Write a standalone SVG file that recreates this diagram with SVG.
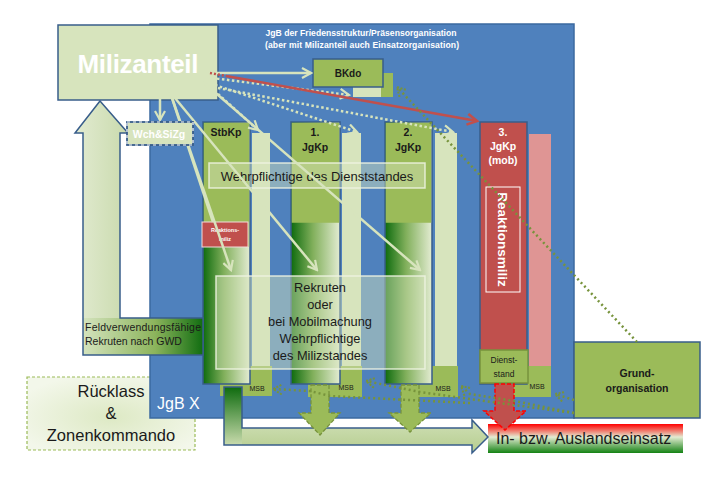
<svg xmlns="http://www.w3.org/2000/svg" width="727" height="484" viewBox="0 0 727 484">
<style>
.t{font-family:"Liberation Sans","DejaVu Sans",sans-serif}
.b{font-weight:bold}
.w{fill:#ffffff}
.k{fill:#1a1a1a}
.pale{fill:#d7e4bd}
.grn{fill:#9bbb59}
.bd{stroke:#385d8a;stroke-width:1.5}
.ov{fill:#d7e4bd;fill-opacity:0.45;stroke:#eef3e3;stroke-opacity:0.85;stroke-width:1.5}
.lp{fill:none;stroke:#d7e4bd;stroke-width:2.5}
.dp{fill:none;stroke:#d7e4bd;stroke-width:2.5;stroke-dasharray:2.5 2.5}
.dg{fill:none;stroke:#77933c;stroke-width:2.5;stroke-dasharray:2 3}
.lr{fill:none;stroke:#c0504d;stroke-width:2.5}
.msb{font-size:7px}
</style>
<defs>
<linearGradient id="colG" x1="0" y1="0" x2="1" y2="0">
<stop offset="0" stop-color="#0e6b0e"/><stop offset="0.45" stop-color="#82b05c"/><stop offset="1" stop-color="#e3ecd2"/>
</linearGradient>
<linearGradient id="upG" x1="0" y1="0" x2="1" y2="0">
<stop offset="0" stop-color="#e2ebd1"/><stop offset="1" stop-color="#a6c279"/>
</linearGradient>
<linearGradient id="feldG" x1="0" y1="0" x2="1" y2="0">
<stop offset="0" stop-color="#d4e3bd"/><stop offset="0.6" stop-color="#8cb45c"/><stop offset="1" stop-color="#116d11"/>
</linearGradient>
<linearGradient id="shaftG" x1="0" y1="0" x2="0" y2="1">
<stop offset="0" stop-color="#0e6b0e"/><stop offset="1" stop-color="#c9dbad"/>
</linearGradient>
<linearGradient id="bandG" x1="0" y1="0" x2="0" y2="1">
<stop offset="0" stop-color="#eaf1de"/><stop offset="1" stop-color="#b5cd8e"/>
</linearGradient>
<linearGradient id="einG" x1="0" y1="0" x2="0" y2="1">
<stop offset="0" stop-color="#ff0000"/><stop offset="0.45" stop-color="#e3ebd2"/><stop offset="1" stop-color="#138213"/>
</linearGradient>
<radialGradient id="rueG" cx="0.5" cy="0.55" r="0.6">
<stop offset="0" stop-color="#dde9c4"/><stop offset="1" stop-color="#f3f7ea"/>
</radialGradient>
<marker id="ap" viewBox="0 0 12 12" refX="10" refY="6" markerWidth="12" markerHeight="12" markerUnits="userSpaceOnUse" orient="auto"><path d="M1,1 L10,6 L1,11" fill="none" stroke="#d7e4bd" stroke-width="2.2"/></marker>
<marker id="ar" viewBox="0 0 12 12" refX="10" refY="6" markerWidth="13" markerHeight="13" markerUnits="userSpaceOnUse" orient="auto"><path d="M1,1 L10,6 L1,11" fill="none" stroke="#c0504d" stroke-width="2.4"/></marker>
<marker id="ag" viewBox="0 0 12 12" refX="10" refY="6" markerWidth="12" markerHeight="12" markerUnits="userSpaceOnUse" orient="auto"><path d="M1,1 L10,6 L1,11" fill="none" stroke="#77933c" stroke-width="2" stroke-dasharray="2 1.5"/></marker>
</defs>

<g id="ruecklass">
<rect x="27" y="377" width="168" height="73" fill="url(#rueG)" stroke="#9bbb59" stroke-width="1.2" stroke-dasharray="3 2"/>
<text class="t k" x="111" y="397" font-size="16.5" text-anchor="middle">Rücklass</text>
<text class="t k" x="111" y="419" font-size="16.5" text-anchor="middle">&amp;</text>
<text class="t k" x="111" y="441" font-size="16.5" text-anchor="middle">Zonenkommando</text>
</g>

<g id="jgb">
<rect x="150" y="24" width="424" height="394" fill="#4f81bd" stroke="#3b6aa0" stroke-width="1.5"/>
<text class="t b w" x="361" y="36" font-size="8.6" text-anchor="middle" textLength="191">JgB der Friedensstruktur/Präsensorganisation</text>
<text class="t b w" x="362" y="48" font-size="8.6" text-anchor="middle" textLength="194">(aber mit Milizanteil auch Einsatzorganisation)</text>
<text class="t w" x="157" y="409" font-size="16">JgB X</text>
</g>

<g id="bkdo">
<rect x="353" y="73" width="40" height="24" class="grn"/>
<rect x="353" y="86" width="28" height="11" class="pale"/>
<rect x="313" y="59" width="70" height="28" class="grn bd"/>
<text class="t b k" x="348" y="77" font-size="10" text-anchor="middle">BKdo</text>
</g>

<g id="stbkp">
<rect x="220" y="366" width="52" height="30" class="grn"/>
<text class="t k msb" x="257" y="391" text-anchor="middle">MSB</text>
<rect x="252" y="133" width="18" height="233" class="pale"/>
<rect x="203" y="122" width="47" height="262" fill="url(#colG)" stroke="#385d8a" stroke-width="1.5"/>
<rect x="203.75" y="122.75" width="45.5" height="124" class="grn"/>
<text class="t b k" x="226" y="136" font-size="10.5" text-anchor="middle">StbKp</text>
<rect x="202" y="222" width="46" height="25" fill="#c0504d" stroke="#f2dcdb" stroke-width="1"/>
<text class="t b w" x="225" y="232" font-size="5.5" text-anchor="middle">Reaktions-</text>
<text class="t b w" x="225" y="241" font-size="5.5" text-anchor="middle">miliz</text>
</g>

<g id="jgkp1">
<rect x="308" y="366" width="54" height="31" class="grn"/>
<text class="t k msb" x="346" y="390" text-anchor="middle">MSB</text>
<rect x="342" y="133" width="19" height="233" class="pale"/>
<rect x="291" y="122" width="49" height="262" fill="url(#colG)" stroke="#385d8a" stroke-width="1.5"/>
<rect x="291.75" y="122.75" width="47.5" height="100" class="grn"/>
<text class="t b k" x="315" y="136" font-size="10.5" text-anchor="middle">1.</text>
<text class="t b k" x="315" y="151" font-size="10.5" text-anchor="middle">JgKp</text>
</g>

<g id="jgkp2">
<rect x="402" y="366" width="56" height="31" class="grn"/>
<text class="t k msb" x="443" y="391" text-anchor="middle">MSB</text>
<rect x="435" y="133" width="22" height="233" class="pale"/>
<rect x="385" y="122" width="47" height="262" fill="url(#colG)" stroke="#385d8a" stroke-width="1.5"/>
<rect x="385.75" y="122.75" width="45.5" height="100" class="grn"/>
<text class="t b k" x="408" y="136" font-size="10.5" text-anchor="middle">2.</text>
<text class="t b k" x="408" y="151" font-size="10.5" text-anchor="middle">JgKp</text>
</g>

<g id="jgkp3">
<rect x="497" y="366" width="54" height="31" class="grn"/>
<text class="t k msb" x="537" y="389" text-anchor="middle">MSB</text>
<rect x="529" y="134" width="22" height="232" fill="#df9594"/>
<rect x="480" y="122" width="47" height="262" fill="#c0504d" stroke="#385d8a" stroke-width="1.5"/>
<text class="t b w" x="503" y="136" font-size="10.5" text-anchor="middle">3.</text>
<text class="t b w" x="503" y="150" font-size="10.5" text-anchor="middle">JgKp</text>
<text class="t b w" x="503" y="164" font-size="10.5" text-anchor="middle">(mob)</text>
<rect x="486" y="187" width="34" height="105" fill="none" stroke="#ffffff" stroke-width="1"/>
<text class="t b w" transform="translate(498,239.5) rotate(90)" font-size="13.5" text-anchor="middle">Reaktionsmiliz</text>
</g>

<g id="dienststand">
<rect x="480" y="350" width="48" height="33" class="grn" stroke="#77933c" stroke-width="1.5"/>
<text class="t k" x="504" y="363" font-size="8.5" text-anchor="middle">Dienst-</text>
<text class="t k" x="504" y="377" font-size="8.5" text-anchor="middle">stand</text>
</g>

<g id="wehrpflichtige">
<rect x="209" y="163" width="216" height="25" class="ov"/>
<text class="t k" x="317" y="181" font-size="13" text-anchor="middle">Wehrpflichtige des Dienststandes</text>
</g>

<g id="rekruten">
<rect x="216" y="276" width="209" height="93" class="ov"/>
<text class="t k" x="320" y="292" font-size="12.8" text-anchor="middle">Rekruten</text>
<text class="t k" x="320" y="309" font-size="12.8" text-anchor="middle">oder</text>
<text class="t k" x="320" y="326" font-size="12.8" text-anchor="middle">bei Mobilmachung</text>
<text class="t k" x="320" y="343" font-size="12.8" text-anchor="middle">Wehrpflichtige</text>
<text class="t k" x="320" y="360" font-size="12.8" text-anchor="middle">des Milizstandes</text>
</g>

<g id="feldverwendung">
<path d="M100,101 L128,133 L120,133 L120,318 L203,318 L203,355 L83,355 L83,133 L75,133 Z" fill="url(#upG)"/>
<rect x="83" y="318" width="120" height="37" fill="url(#feldG)"/>
<path d="M100,101 L128,133 L120,133 L120,318 L203,318 L203,355 L83,355 L83,133 L75,133 Z" fill="none" stroke="#385d8a" stroke-width="1.5"/>
<text class="t k" x="85" y="331" font-size="10.5" textLength="116">Feldverwendungsfähige</text>
<text class="t k" x="85" y="345" font-size="10.5">Rekruten nach GWD</text>
</g>

<g id="milizanteil">
<rect x="58" y="25" width="160" height="75" class="pale" stroke="#385d8a" stroke-width="1.5"/>
<text class="t b w" x="138" y="73" font-size="26" text-anchor="middle" textLength="121">Milizanteil</text>
</g>

<g id="grundorganisation">
<rect x="574" y="342" width="126" height="76" class="grn bd"/>
<text class="t b k" x="637" y="377" font-size="10.5" text-anchor="middle">Grund-</text>
<text class="t b k" x="637" y="392" font-size="10.5" text-anchor="middle">organisation</text>
</g>

<g id="einsatz">
<rect x="488" y="424" width="195" height="29" fill="url(#einG)"/>
<text class="t k" x="496" y="444" font-size="16">In- bzw. Auslandseinsatz</text>
</g>

<g id="blockarrows">
<path d="M224,387 L242,387 L242,428 L472,428 L472,420 L488,437 L472,453 L472,445 L224,445 Z" fill="url(#bandG)"/>
<rect x="224" y="387" width="18" height="58" fill="url(#shaftG)"/>
<path d="M224,387 L242,387 L242,428 L472,428 L472,420 L488,437 L472,453 L472,445 L224,445 Z" fill="none" stroke="#385d8a" stroke-width="1.5"/>
<path d="M311,385 L329,385 L329,413 L340,413 L320,435 L299,413 L311,413 Z" fill="#9bbb59" stroke="#77933c" stroke-width="1.3" stroke-dasharray="4 2"/>
<path d="M401,385 L419,385 L419,413 L431,413 L410,432 L389,413 L401,413 Z" fill="#9bbb59" stroke="#77933c" stroke-width="1.3" stroke-dasharray="4 2"/>
<path d="M495,384 L514,384 L514,411 L526,411 L505,430 L484,411 L495,411 Z" fill="#c0504d" stroke="#ff0000" stroke-width="1.5" stroke-dasharray="4 2"/>
</g>

<g id="connectors">
<line x1="212" y1="73" x2="311" y2="73" class="lp" marker-end="url(#ap)"/>
<line x1="160" y1="86" x2="160" y2="120" class="lp" marker-end="url(#ap)"/>
<line x1="167" y1="83" x2="231" y2="270" class="lp" marker-end="url(#ap)"/>
<line x1="167" y1="83" x2="213" y2="222" class="lp"/>
<line x1="170" y1="92" x2="317" y2="270" class="lp" marker-end="url(#ap)"/>
<line x1="203" y1="82" x2="420" y2="270" class="lp" marker-end="url(#ap)"/>
<line x1="212" y1="78" x2="349" y2="95" class="dp" marker-end="url(#ap)"/>
<line x1="215" y1="85" x2="357" y2="132" class="dp" marker-end="url(#ap)"/>
<line x1="218" y1="88" x2="453" y2="132" class="dp" marker-end="url(#ap)"/>
<line x1="218" y1="94" x2="258" y2="130" class="dp" marker-end="url(#ap)"/>
<line x1="210" y1="73" x2="226" y2="76" stroke="#c0504d" stroke-width="2.5" stroke-dasharray="2 2"/>
<line x1="226" y1="76" x2="477" y2="121" class="lr" marker-end="url(#ar)"/>
<line x1="637" y1="342" x2="397" y2="87" class="dg" marker-end="url(#ag)"/>
<line x1="574" y1="400" x2="555" y2="394" class="dg" marker-end="url(#ag)"/>
<polyline points="574,413 520,402 470,394 461,386" class="dg" marker-end="url(#ag)"/>
<polyline points="574,413 470,399 420,392 366,381" class="dg" marker-end="url(#ag)"/>
<polyline points="470,403 330,396 310,391 273,389" class="dg" marker-end="url(#ag)"/>
</g>

<g id="wchsizg">
<rect x="127" y="122" width="66" height="23" class="pale" stroke="#385d8a" stroke-width="1.8"/>
<rect x="127" y="122" width="66" height="23" fill="none" stroke="#ffffff" stroke-width="1.2" stroke-dasharray="3 3"/>
<text class="t b w" x="159" y="138" font-size="10.5" text-anchor="middle">Wch&amp;SiZg</text>
</g>
</svg>
